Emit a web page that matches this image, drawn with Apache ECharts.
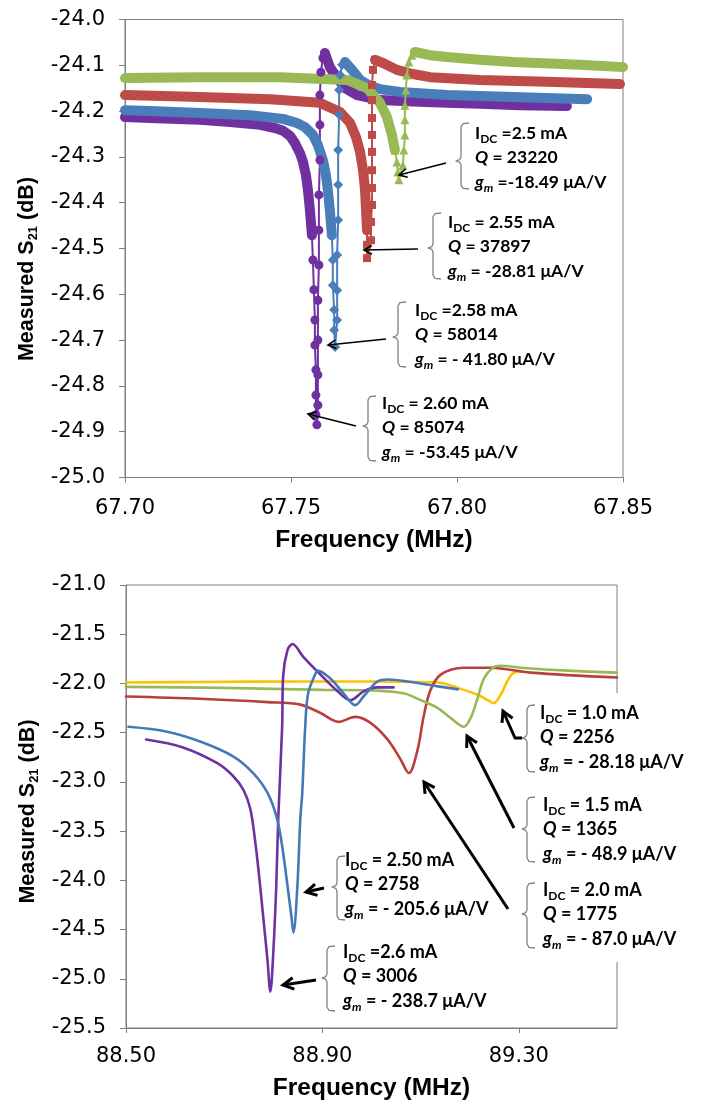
<!DOCTYPE html>
<html><head><meta charset="utf-8">
<script src="https://cdn.jsdelivr.net/npm/echarts@6/dist/echarts.min.js"></script>
<style>html,body{margin:0;padding:0;background:#fff}#c{width:702px;height:1102px}</style>
</head><body><div id="c"></div>
<script>
// ---------- tick labels ----------
const topXTicks = [67.70, 67.75, 67.80, 67.85];
const topYTicks = [-25.0, -24.9, -24.8, -24.7, -24.6, -24.5, -24.4, -24.3, -24.2, -24.1, -24.0];
const botXTicks = [88.50, 88.90, 89.30];
const botYTicks = [-25.5, -25.0, -24.5, -24.0, -23.5, -23.0, -22.5, -22.0, -21.5, -21.0];

// ---------- top chart: [MHz, dB] ----------
// IDC = 2.60 mA (purple circles)
const i260Fall = [[67.7000,-24.213],[67.7075,-24.215],[67.7226,-24.219],[67.7316,-24.224],[67.7407,-24.230],[67.7452,-24.237],[67.7476,-24.243],[67.7497,-24.254],[67.7512,-24.270],[67.7527,-24.292],[67.7536,-24.311],[67.7545,-24.340],[67.7551,-24.372],[67.7557,-24.416],[67.7563,-24.471]];
const i260Dip = [[67.7566,-24.525],[67.7569,-24.590],[67.7572,-24.656],[67.7572,-24.711],[67.7575,-24.765],[67.7575,-24.820],[67.7575,-24.863],[67.7578,-24.885],[67.7581,-24.842],[67.7581,-24.776],[67.7581,-24.700],[67.7581,-24.613],[67.7584,-24.536],[67.7584,-24.460],[67.7584,-24.383],[67.7587,-24.307],[67.7587,-24.230],[67.7587,-24.165],[67.7590,-24.115],[67.7596,-24.084]];
const i260Decay = [[67.7602,-24.073],[67.7617,-24.104],[67.7639,-24.128],[67.7663,-24.150],[67.7699,-24.165],[67.7768,-24.176],[67.7867,-24.179],[67.7970,-24.182],[67.8069,-24.184],[67.8190,-24.187],[67.8331,-24.189]];
// IDC = 2.58 mA (blue diamonds)
const i258Fall = [[67.7000,-24.198],[67.7075,-24.200],[67.7226,-24.204],[67.7377,-24.209],[67.7476,-24.217],[67.7518,-24.226],[67.7542,-24.235],[67.7566,-24.252],[67.7581,-24.274],[67.7596,-24.307],[67.7605,-24.339],[67.7611,-24.372],[67.7617,-24.416],[67.7623,-24.471]];
const i258Dip = [[67.7626,-24.525],[67.7626,-24.580],[67.7630,-24.634],[67.7630,-24.678],[67.7633,-24.715],[67.7639,-24.656],[67.7639,-24.591],[67.7639,-24.514],[67.7642,-24.438],[67.7642,-24.361],[67.7642,-24.285],[67.7645,-24.208],[67.7645,-24.154],[67.7648,-24.121],[67.7654,-24.099]];
const i258Decay = [[67.7663,-24.093],[67.7684,-24.110],[67.7708,-24.132],[67.7738,-24.145],[67.7768,-24.152],[67.7828,-24.158],[67.7970,-24.165],[67.8169,-24.169],[67.8392,-24.174]];
// IDC = 2.55 mA (red squares)
const i255Fall = [[67.7000,-24.165],[67.7226,-24.169],[67.7437,-24.174],[67.7587,-24.182],[67.7648,-24.202],[67.7678,-24.226],[67.7696,-24.257],[67.7708,-24.289],[67.7717,-24.329],[67.7723,-24.372],[67.7726,-24.416],[67.7729,-24.460]];
const i255Dip = [[67.7729,-24.492],[67.7729,-24.521],[67.7741,-24.482],[67.7741,-24.442],[67.7744,-24.405],[67.7744,-24.368],[67.7744,-24.329],[67.7744,-24.289],[67.7744,-24.252],[67.7744,-24.215],[67.7744,-24.176],[67.7744,-24.143],[67.7747,-24.110]];
const i255Decay = [[67.7753,-24.088],[67.7777,-24.095],[67.7819,-24.110],[67.7867,-24.119],[67.7919,-24.126],[67.8069,-24.132],[67.8271,-24.136],[67.8491,-24.141]];
// IDC = 2.5 mA (green triangles)
const i250Fall = [[67.7000,-24.128],[67.7226,-24.126],[67.7467,-24.126],[67.7669,-24.132],[67.7729,-24.150],[67.7768,-24.182],[67.7789,-24.213],[67.7804,-24.252],[67.7813,-24.285]];
const i250Dip = [[67.7819,-24.311],[67.7822,-24.333],[67.7825,-24.350],[67.7837,-24.318],[67.7840,-24.285],[67.7843,-24.252],[67.7843,-24.219],[67.7843,-24.187],[67.7846,-24.154],[67.7849,-24.121],[67.7855,-24.093],[67.7864,-24.078]];
const i250Decay = [[67.7873,-24.071],[67.7919,-24.078],[67.7970,-24.082],[67.8069,-24.088],[67.8169,-24.093],[67.8370,-24.099],[67.8500,-24.104]];

// ---------- bottom chart: [MHz, dB] ----------
const b10 = [[88.500,-21.99],[88.651,-21.985],[88.855,-21.98],[89.000,-21.98],[89.135,-21.99],[89.176,-22.045],[89.216,-22.115],[89.237,-22.17],[89.249,-22.20],[89.263,-22.115],[89.278,-21.965],[89.290,-21.89],[89.304,-21.88]];
const b15 = [[88.500,-22.035],[88.700,-22.045],[88.900,-22.065],[89.000,-22.07],[89.065,-22.10],[89.100,-22.17],[89.135,-22.25],[89.161,-22.35],[89.188,-22.44],[89.202,-22.35],[89.216,-22.15],[89.229,-21.95],[89.247,-21.84],[89.263,-21.82],[89.304,-21.84],[89.400,-21.87],[89.500,-21.89]];
const b20 = [[88.500,-22.133],[88.651,-22.156],[88.788,-22.19],[88.855,-22.215],[88.896,-22.30],[88.933,-22.39],[88.967,-22.34],[88.998,-22.40],[89.033,-22.57],[89.059,-22.77],[89.076,-22.91],[89.094,-22.67],[89.106,-22.34],[89.120,-22.07],[89.141,-21.91],[89.188,-21.84],[89.243,-21.84],[89.324,-21.89],[89.500,-21.94]];
const b25 = [[88.505,-22.44],[88.584,-22.49],[88.651,-22.59],[88.718,-22.74],[88.759,-22.91],[88.788,-23.11],[88.808,-23.38],[88.820,-23.72],[88.829,-24.06],[88.837,-24.37],[88.841,-24.53],[88.849,-24.06],[88.855,-23.38],[88.859,-23.11],[88.865,-22.44],[88.871,-22.10],[88.886,-21.90],[88.890,-21.87],[88.916,-21.95],[88.943,-22.10],[88.967,-22.22],[88.984,-22.13],[89.012,-21.98],[89.033,-21.96],[89.100,-22.00],[89.135,-22.03],[89.176,-22.06]];
const b26 = [[88.541,-22.57],[88.616,-22.65],[88.686,-22.81],[88.718,-22.94],[88.739,-23.08],[88.753,-23.27],[88.763,-23.60],[88.771,-23.95],[88.780,-24.40],[88.788,-24.80],[88.794,-25.13],[88.800,-24.73],[88.806,-24.06],[88.810,-23.38],[88.818,-22.44],[88.820,-21.93],[88.829,-21.66],[88.839,-21.60],[88.861,-21.73],[88.896,-21.91],[88.931,-22.08],[88.957,-22.17],[88.984,-22.08],[89.012,-22.04],[89.045,-22.04]];

// ---------- annotation texts ----------
const topNotes = [
  ['{n|I}{s|DC}{n| =2.5 mA}', '{i|Q}{n| = 23220}', '{i|g}{si|m}{n| =-18.49 μA/V}'],
  ['{n|I}{s|DC}{n| = 2.55 mA}', '{i|Q}{n| = 37897}', '{i|g}{si|m}{n| = -28.81 μA/V}'],
  ['{n|I}{s|DC}{n| =2.58 mA}', '{i|Q}{n| = 58014}', '{i|g}{si|m}{n| = - 41.80 μA/V}'],
  ['{n|I}{s|DC}{n| = 2.60 mA}', '{i|Q}{n| = 85074}', '{i|g}{si|m}{n| = -53.45 μA/V}']
];
const botNotes = [
  ['{n|I}{s|DC}{n| = 1.0 mA}', '{i|Q}{n| = 2256}', '{i|g}{si|m}{n| = - 28.18 μA/V}'],
  ['{n|I}{s|DC}{n| = 1.5 mA}', '{i|Q}{n| = 1365}', '{i|g}{si|m}{n| = - 48.9 μA/V}'],
  ['{n|I}{s|DC}{n| = 2.0 mA}', '{i|Q}{n| = 1775}', '{i|g}{si|m}{n| = - 87.0 μA/V}'],
  ['{n|I}{s|DC}{n| = 2.50 mA}', '{i|Q}{n| = 2758}', '{i|g}{si|m}{n| = - 205.6 μA/V}'],
  ['{n|I}{s|DC}{n| =2.6 mA}', '{i|Q}{n| = 3006}', '{i|g}{si|m}{n| = - 238.7 μA/V}']
];

// ---------- layout of annotations (pixels) ----------
const topNoteLayout = [
  {tx:475, ty:133, bx:461, bt:123, bb:189, bm:161, arrow:[[446,163],[399,175]]},
  {tx:448, ty:222, bx:433, bt:213, bb:279, bm:248, arrow:[[418,249],[364,250]]},
  {tx:415, ty:310, bx:398, bt:302, bb:367, bm:337, arrow:[[386,339],[328,345]]},
  {tx:382, ty:403, bx:368, bt:396, bb:461, bm:426, arrow:[[356,426],[308,414]]}
];
const botNoteLayout = [
  {tx:540, ty:713, bx:527, bt:705, bb:772, bm:738, arrow:[[522,738],[515,738],[503,711]]},
  {tx:543, ty:805, bx:527, bt:797, bb:862, bm:829, arrow:[[514,828],[467,736]]},
  {tx:543, ty:890, bx:527, bt:883, bb:948, bm:914, arrow:[[508,909],[424,782]]},
  {tx:345, ty:860, bx:337, bt:856, bb:920, bm:887, arrow:[[324,888],[306,892]]},
  {tx:343, ty:952, bx:327, bt:946, bb:1011, bm:978, arrow:[[316,980],[283,985]]}
];

const C = {purple:'#7030A0', blue:'#4A7EBB', red:'#BE4B48', green:'#98B954', yellow:'#FFC000'};
const AX = '#7f7f7f';

function richFor(fs, lh){
  const base = {fontFamily:'Lato', fontWeight:'bold', fill:'#000'};
  return {
    n: Object.assign({}, base, {fontSize:fs, lineHeight:lh}),
    i: Object.assign({}, base, {fontSize:fs, lineHeight:lh, fontStyle:'italic'}),
    s: Object.assign({}, base, {fontSize:Math.round(fs*0.66), lineHeight:Math.round(fs*0.8), verticalAlign:'bottom'}),
    si: Object.assign({}, base, {fontSize:Math.round(fs*0.66), lineHeight:Math.round(fs*0.8), verticalAlign:'bottom', fontStyle:'italic'})
  };
}
function bracePts(x, t, b, m, w, tip){
  return [[x+w,t],[x+2,t+0.6],[x,t+4],[x,m-4],[x-1.2,m-1.4],[x-tip,m],[x-1.2,m+1.4],[x,m+4],[x,b-4],[x+2,b-0.6],[x+w,b]];
}
function arrowEls(pts, lw, hl){
  const n = pts.length, tx = pts[n-1][0], ty = pts[n-1][1], px = pts[n-2][0], py = pts[n-2][1];
  const a = Math.atan2(py-ty, px-tx), s = 0.5;
  const h1 = [tx+hl*Math.cos(a+s), ty+hl*Math.sin(a+s)], h2 = [tx+hl*Math.cos(a-s), ty+hl*Math.sin(a-s)];
  return [
    {type:'polyline', z:30, shape:{points:pts}, style:{stroke:'#000', lineWidth:lw, fill:null, lineJoin:'round'}},
    {type:'polyline', z:30, shape:{points:[h1,[tx,ty],h2]}, style:{stroke:'#000', lineWidth:lw, fill:null, lineJoin:'miter'}}
  ];
}
function noteEls(texts, L, fs, lh, lw, hl){
  const els = [];
  els.push({type:'text', z:30, x:L.tx, y:L.ty - lh/2, style:{text:texts.join('\n'), rich:richFor(fs, lh), fill:'#000', fontFamily:'Lato', fontWeight:'bold', fontSize:fs, lineHeight:lh, verticalAlign:'top', align:'left'}});
  els.push({type:'polyline', z:30, shape:{points:bracePts(L.bx, L.bt, L.bb, L.bm, 8, 5)}, style:{stroke:'#808080', lineWidth:1.3, fill:null, lineJoin:'round'}});
  return els.concat(arrowEls(L.arrow, lw, hl));
}

let graphics = [{type:'rect', z:1, shape:{x:513, y:693, width:189, height:269}, style:{fill:'#fff'}}];
topNotes.forEach((t,k)=>{ graphics = graphics.concat(noteEls(t, topNoteLayout[k], 17.5, 24.5, 1.6, 9)); });
botNotes.forEach((t,k)=>{ graphics = graphics.concat(noteEls(t, botNoteLayout[k], 18, 24.5, 3, 12)); });

const tickFont = {fontFamily:'DejaVu Sans', fontSize:21, color:'#000'};
const xTitleFont = {fontFamily:'Liberation Sans', fontWeight:'bold', fontSize:24.5, color:'#000'};
const yTitleFont = {fontFamily:'Liberation Sans', fontWeight:'bold', fontSize:21.5, color:'#000'};
function xAx(grid, min, max, ticks, gap, margin){
  return {gridIndex:grid, type:'value', min:min, max:max, name:'Frequency (MHz)', nameLocation:'middle', nameGap:gap,
    nameTextStyle:xTitleFont,
    axisLine:{show:true, onZero:false, lineStyle:{color:AX, width:1}},
    axisTick:{show:true, length:5, inside:false, customValues:ticks, lineStyle:{color:AX}},
    axisLabel:Object.assign({customValues:ticks, margin:margin, formatter:v=>v.toFixed(2)}, tickFont),
    splitLine:{show:false}};
}
function yAx(grid, min, max, ticks, gap, pad){
  return {gridIndex:grid, type:'value', min:min, max:max, name:'Measured S{sub|21} (dB)', nameLocation:'middle', nameGap:gap,
    nameTextStyle:Object.assign({lineHeight:26, padding:pad, rich:{sub:{fontFamily:'Liberation Sans', fontWeight:'bold', fontSize:13, lineHeight:12, verticalAlign:'bottom', color:'#000'}}}, yTitleFont),
    axisLine:{show:true, onZero:false, lineStyle:{color:AX, width:1}},
    axisTick:{show:true, length:6, inside:false, customValues:ticks, lineStyle:{color:AX}},
    axisLabel:Object.assign({customValues:ticks, margin:20, formatter:v=>v.toFixed(1)}, tickFont),
    splitLine:{show:false}};
}

function band(name, data, color){
  return {name:name, type:'line', xAxisIndex:0, yAxisIndex:0, data:data, showSymbol:false, symbol:'none',
    lineStyle:{color:color, width:10, cap:'round', join:'round'}, z:2};
}
function dots(name, data, color, sym, size){
  return {name:name, type:'line', xAxisIndex:0, yAxisIndex:0, data:data, symbol:sym, symbolSize:size, showSymbol:true,
    itemStyle:{color:color}, lineStyle:{color:color, width:2}, z:2};
}
function topSeries(name, fall, dip, decay, color, sym, size){
  return [
    band(name, fall, color),
    dots(name, [fall[fall.length-1]].concat(dip, [decay[0]]), color, sym, size),
    band(name, decay, color)
  ];
}
function smoothLine(name, data, color){
  return {name:name, type:'line', xAxisIndex:1, yAxisIndex:1, data:data, symbol:'none', smooth:0.35,
    lineStyle:{color:color, width:2.6, cap:'round'}, z:2};
}

const series = [].concat(
  topSeries('IDC 2.60 mA', i260Fall, i260Dip, i260Decay, C.purple, 'circle', 9),
  topSeries('IDC 2.58 mA', i258Fall, i258Dip, i258Decay, C.blue, 'diamond', 10),
  topSeries('IDC 2.55 mA', i255Fall, i255Dip, i255Decay, C.red, 'rect', 8),
  topSeries('IDC 2.5 mA', i250Fall, i250Dip, i250Decay, C.green, 'triangle', 9),
  [smoothLine('IDC 1.0 mA', b10, C.yellow),
   smoothLine('IDC 2.0 mA', b20, '#B8403C'),
   smoothLine('IDC 1.5 mA', b15, C.green),
   smoothLine('IDC 2.6 mA', b26, C.purple),
   smoothLine('IDC 2.50 mA', b25, '#4479B8')]
);

const chart = echarts.init(document.getElementById('c'), null, {renderer:'canvas'});
chart.setOption({
  animation:false,
  backgroundColor:'#fff',
  grid:[
    {left:125, top:19.5, width:498, height:458, show:true, borderColor:AX, borderWidth:1, backgroundColor:'#fff'},
    {left:126, top:585, width:491, height:443, show:true, borderColor:AX, borderWidth:1, backgroundColor:'#fff'}
  ],
  xAxis:[xAx(0, 67.70, 67.85, topXTicks, 50, 21), xAx(1, 88.50, 89.50, botXTicks, 48, 18)],
  yAxis:[yAx(0, -25.0, -24.0, topYTicks, 84, [0,41,0,0]), yAx(1, -25.5, -21.0, botYTicks, 84, [0,10,0,0])],
  series:series,
  graphic:{elements:graphics}
});
</script>
</body></html>
